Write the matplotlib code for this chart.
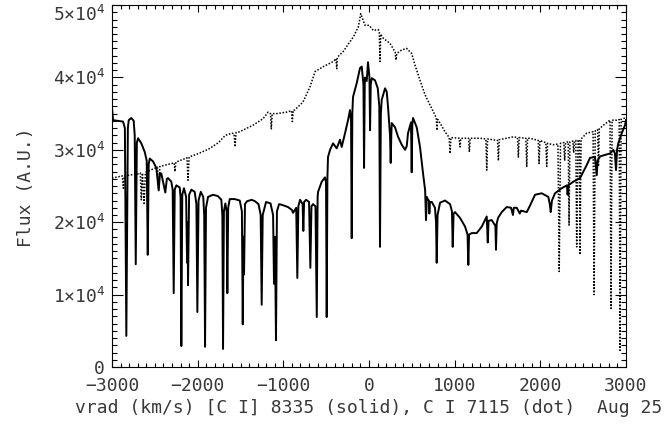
import matplotlib
matplotlib.use("Agg")
import matplotlib.pyplot as plt
from matplotlib.ticker import MultipleLocator, FuncFormatter

# [C I] 8335 (solid) : velocity (km/s), flux (x1e4 A.U.)
solid_v = [-3000, -2988, -2930, -2871, -2850, -2833, -2815, -2805, -2775, -2747, -2735, -2723,
           -2710, -2696, -2658, -2618, -2595, -2583, -2572, -2560, -2521, -2483, -2455, -2440,
           -2424, -2378, -2360, -2346, -2308, -2292, -2280, -2268, -2249, -2210, -2200, -2191,
           -2180, -2160, -2135, -2124, -2118, -2113, -2100, -2074, -2035, -2015, -2004, -1990,
           -1964, -1935, -1924, -1914, -1903, -1879, -1821, -1763, -1724, -1712, -1704, -1694,
           -1677, -1662, -1654, -1644, -1626, -1568, -1509, -1484, -1474, -1466, -1459, -1448,
           -1424, -1370, -1331, -1290, -1265, -1253, -1241, -1202, -1150, -1120, -1109, -1098,
           -1086, -1075, -1050, -1016, -970, -946, -900, -887, -850, -837, -825, -805, -775,
           -767, -758, -735, -700, -685, -672, -654, -625, -610, -600, -595, -552, -514, -502,
           -494, -486, -479, -455, -420, -377, -339, -319, -280, -245, -222, -210, -202, -195,
           -187, -144, -105, -85, -65, -58, -50, -47, -27, -12, 5, 12, 20, 32, 70, 102, 120,
           128, 138, 148, 187, 207, 222, 245, 253, 260, 265, 304, 339, 382, 420, 440, 455, 490,
           498, 505, 514, 557, 595, 630, 655, 665, 675, 689, 700, 704, 710, 732, 770, 782, 790,
           800, 829, 887, 946, 968, 977, 987, 1004, 1062, 1121, 1150, 1159, 1168, 1199, 1257,
           1316, 1374, 1386, 1395, 1432, 1475, 1482, 1490, 1506, 1549, 1607, 1658, 1680, 1690,
           1724, 1760, 1774, 1841, 1879, 1938, 2016, 2093, 2110, 2121, 2135, 2171, 2249, 2311,
           2318, 2326, 2385, 2463, 2541, 2580, 2638, 2650, 2658, 2668, 2697, 2755, 2813, 2852,
           2870, 2883, 2895, 2910, 2950, 2988, 3000]
solid_f = [3.58, 3.41, 3.40, 3.39, 3.30, 0.43, 3.30, 3.41, 3.44, 3.40, 3.20, 1.42,
           3.10, 3.16, 3.09, 2.97, 2.85, 1.55, 2.80, 2.88, 2.84, 2.75, 2.44, 2.68,
           2.67, 2.41, 2.60, 2.61, 2.56, 2.45, 1.02, 2.45, 2.51, 2.48, 2.35, 0.29,
           2.38, 2.47, 2.35, 1.44, 2.00, 1.13, 2.38, 2.45, 2.42, 2.25, 0.76, 2.30,
           2.42, 2.35, 2.10, 0.28, 2.20, 2.35, 2.38, 2.36, 2.31, 2.10, 0.25, 2.15,
           2.26, 2.15, 1.02, 2.20, 2.32, 2.32, 2.30, 2.15, 0.59, 1.80, 1.28, 2.25,
           2.29, 2.31, 2.29, 2.25, 2.10, 0.86, 2.10, 2.28, 2.26, 2.10, 1.15, 1.80,
           0.37, 2.15, 2.25, 2.24, 2.22, 2.21, 2.17, 2.13, 2.20, 1.23, 2.22, 2.31, 2.25,
           1.88, 2.28, 2.31, 2.28, 1.37, 2.22, 2.25, 2.22, 0.69, 2.35, 2.42, 2.56, 2.62, 2.55,
           0.69, 2.60, 2.90, 3.00, 3.09, 3.02, 3.14, 3.04, 3.23, 3.41, 3.55, 3.40, 1.78, 3.50,
           3.73, 3.92, 4.13, 4.15, 3.90, 2.75, 3.90, 4.00, 3.95, 4.21, 4.00, 3.27, 3.90, 3.99, 3.96, 3.85, 3.60,
           1.66, 3.50, 3.69, 3.85, 3.80, 3.59, 3.20, 2.82, 3.20, 3.37, 3.31, 3.18, 3.07, 3.00, 3.05, 3.23, 3.38,
           2.69, 3.35, 3.44, 3.31, 3.04, 2.68, 2.44, 2.03, 2.35, 2.31, 2.30, 2.12, 2.28, 2.28, 2.20, 2.00, 1.44,
           2.10, 2.27, 2.30, 2.25, 2.15, 1.66, 2.12, 2.14, 2.06, 1.94, 1.83, 1.41, 1.83, 1.85, 1.85,
           1.94, 2.08, 1.72, 2.02, 2.03, 1.95, 1.62, 1.98, 2.06, 2.14, 2.21, 2.20, 2.10, 2.20,
           2.20, 2.12, 2.16, 2.14, 2.23, 2.38, 2.40, 2.35, 2.25, 2.14, 2.30, 2.40, 2.47, 2.51,
           2.38, 2.51, 2.56, 2.61, 2.79, 2.89, 2.90, 2.75, 2.65, 2.85, 2.91, 2.93, 2.95, 3.00,
           2.95, 2.72, 3.00, 3.09, 3.23, 3.34, 3.41]

# C I 7115 (dot)
dot_v = [-3000, -2918, -2880, -2868, -2856, -2805, -2690, -2670, -2658, -2645, -2626, -2610,
         -2573, -2470, -2456, -2442, -2340, -2275, -2265, -2255, -2125, -2113, -2100, -1989,
         -1873, -1756, -1678, -1600, -1575, -1564, -1552, -1510, -1354, -1237, -1179, -1150,
         -1141, -1130, -1082, -965, -905, -895, -885, -868, -771, -689, -630, -533, -416,
         -385, -377, -369, -300, -183, -124, -97, -47, 0, 50, 109, 120, 128, 136, 167, 245,
         305, 315, 323, 382, 440, 498, 537, 595, 654, 712, 770, 785, 793, 801, 829, 887, 936,
         946, 956, 1052, 1062, 1072, 1161, 1171, 1181, 1296, 1364, 1374, 1384, 1500, 1510,
         1520, 1685, 1733, 1743, 1753, 1831, 1841, 1851, 1879, 1975, 1985, 1995, 2035, 2064,
         2074, 2084, 2151, 2205, 2220, 2235, 2274, 2284, 2294, 2325, 2335, 2345, 2380, 2389,
         2398, 2414, 2424, 2440, 2455, 2463, 2475, 2541, 2615, 2627, 2640, 2668, 2678, 2688,
         2736, 2813, 2825, 2837, 2891, 2920, 2930, 2942, 2969, 3000]
dot_f = [2.61, 2.63, 2.64, 2.47, 2.64, 2.65, 2.67, 2.68, 2.31, 2.68, 2.26, 2.69,
         2.71, 2.76, 2.45, 2.77, 2.80, 2.82, 2.70, 2.83, 2.89, 2.58, 2.90, 2.95,
         3.01, 3.10, 3.20, 3.23, 3.22, 3.04, 3.24, 3.25, 3.34, 3.43, 3.52, 3.50,
         3.29, 3.50, 3.50, 3.52, 3.54, 3.39, 3.55, 3.55, 3.66, 3.87, 4.08, 4.15, 4.22,
         4.26, 4.12, 4.28, 4.36, 4.56, 4.70, 4.88, 4.72, 4.72, 4.65, 4.66, 4.62, 4.22, 4.60, 4.54, 4.47,
         4.35, 4.24, 4.33, 4.38, 4.40, 4.33, 4.17, 3.96, 3.76, 3.62, 3.48, 3.44, 3.27, 3.42, 3.37, 3.25, 3.17,
         2.95, 3.17, 3.16, 3.04, 3.16, 3.16, 2.97, 3.16, 3.16, 3.15, 2.72, 3.15, 3.13, 2.85,
         3.14, 3.18, 3.17, 2.90, 3.17, 3.16, 2.77, 3.16, 3.16, 3.13, 2.81, 3.13, 3.11, 3.10,
         2.77, 3.09, 3.07, 3.08, 1.32, 3.09, 3.10, 2.85, 3.10, 3.11, 1.96, 3.11, 3.12, 2.96,
         3.12, 3.13, 1.66, 3.13, 3.14, 1.55, 3.15, 3.23, 3.25, 1.00, 3.26, 3.28, 2.77, 3.29,
         3.34, 3.41, 0.81, 3.41, 3.41, 3.42, 0.23, 3.42, 3.43, 3.45]

x_ticks = [-3000, -2000, -1000, 0, 1000, 2000, 3000]
y_ticks = [0, 1e4, 2e4, 3e4, 4e4, 5e4]
xlabel = "vrad (km/s) [C I] 8335 (solid), C I 7115 (dot)  Aug 25"
ylabel = "Flux (A.U.)"

FONT = 'DejaVu Sans Mono'
plt.rcParams['font.family'] = [FONT, 'DejaVu Sans']
plt.rcParams['mathtext.fontset'] = 'custom'
plt.rcParams['mathtext.rm'] = FONT
plt.rcParams['mathtext.it'] = FONT
plt.rcParams['mathtext.default'] = 'rm'
plt.rcParams['axes.unicode_minus'] = True

fig = plt.figure(figsize=(6.72, 4.38), dpi=100)
ax = fig.add_axes([0.1667, 0.162, 0.7649, 0.8265])

ax.plot(solid_v, [f * 1e4 for f in solid_f], color='black', lw=1.4)
ax.plot(dot_v, [f * 1e4 for f in dot_f], color='black', lw=1.1, linestyle=(0, (1, 1.1)))

ax.set_xlim(-3000, 3000)
ax.set_ylim(0, 5e4)
ax.set_xticks(x_ticks)
ax.set_yticks(y_ticks)
ax.xaxis.set_minor_locator(MultipleLocator(100))
ax.yaxis.set_minor_locator(MultipleLocator(1000))

def yfmt(v, pos):
    if v == 0:
        return "0"
    return "%d\u00d710$^{4}$" % round(v / 1e4)
ax.yaxis.set_major_formatter(FuncFormatter(yfmt))

tc = '#383838'
FS = 13
ax.tick_params(axis='x', which='major', direction='in', length=5.3, width=0.8,
               top=True, bottom=True, labelsize=FS, pad=7, labelcolor=tc)
ax.tick_params(axis='x', which='minor', direction='in', length=2.6, width=0.8,
               top=True, bottom=True)
ax.tick_params(axis='y', which='major', direction='in', length=7.6, width=0.8,
               left=True, right=True, labelsize=FS, pad=5, labelcolor=tc)
ax.tick_params(axis='y', which='minor', direction='in', length=3.8, width=0.8,
               left=True, right=True)
for s in ax.spines.values():
    s.set_linewidth(0.8)

ax.set_xlabel(xlabel, fontsize=FS, color=tc, labelpad=3)
ax.set_ylabel(ylabel, fontsize=FS, color=tc)
ax.yaxis.set_label_coords(-0.15, 0.496)

fig.canvas.draw()
ylabels = ax.get_yticklabels()
ylabels[-1].set_verticalalignment('top')
ylabels[-1].set_y(5e4)

fig.savefig("out.png", dpi=100)
